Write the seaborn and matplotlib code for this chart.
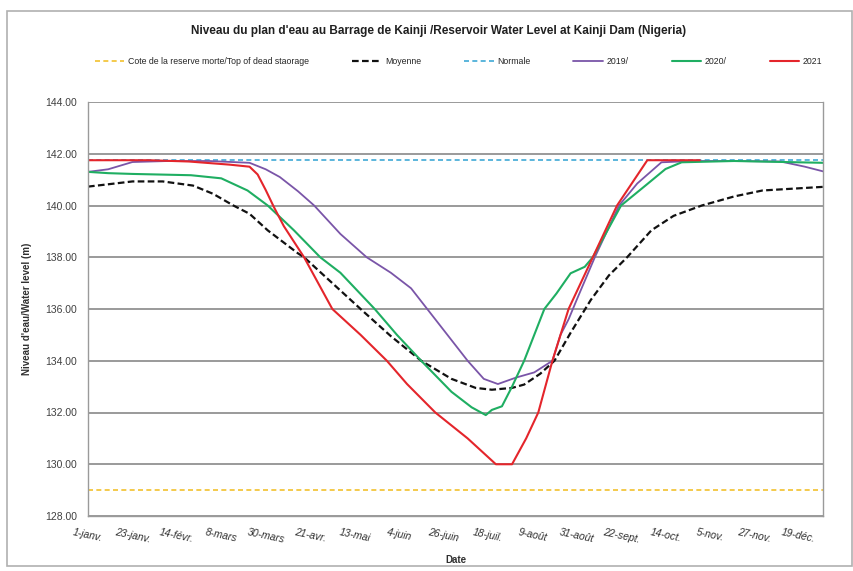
import pandas as pd
import matplotlib.pyplot as plt
from matplotlib.patches import Rectangle
import seaborn as sns

# Dates / values (year 2021 used as reference year)
dates_2019 = ["2021-01-01", "2021-01-11", "2021-01-23", "2021-02-10", "2021-03-02", "2021-03-22",
              "2021-03-30", "2021-04-06", "2021-04-15", "2021-04-23", "2021-05-06", "2021-05-19",
              "2021-05-31", "2021-06-10", "2021-06-18", "2021-06-28", "2021-07-08", "2021-07-16",
              "2021-07-23", "2021-08-01", "2021-08-10", "2021-08-19", "2021-08-23", "2021-08-27",
              "2021-08-31", "2021-09-09", "2021-09-21", "2021-09-30", "2021-10-12", "2021-10-28",
              "2021-11-17", "2021-12-10", "2021-12-22", "2021-12-31"]
level_2019 = [141.30, 141.40, 141.68, 141.72, 141.72, 141.65,
              141.40, 141.10, 140.55, 140.00, 138.90, 138.00,
              137.40, 136.80, 136.00, 135.00, 134.00, 133.30,
              133.10, 133.35, 133.55, 134.00, 135.00, 135.60,
              136.35, 138.00, 140.00, 140.85, 141.67, 141.72,
              141.72, 141.70, 141.50, 141.32]

dates_2020 = ["2021-01-01", "2021-01-11", "2021-01-23", "2021-02-21", "2021-03-08", "2021-03-21",
              "2021-03-31", "2021-04-13", "2021-04-26", "2021-05-06", "2021-05-23", "2021-06-03",
              "2021-06-15", "2021-06-30", "2021-07-10", "2021-07-17", "2021-07-20", "2021-07-25",
              "2021-07-30", "2021-08-05", "2021-08-15", "2021-08-21", "2021-08-28", "2021-09-04",
              "2021-09-08", "2021-09-22", "2021-10-05", "2021-10-14", "2021-10-22", "2021-11-17",
              "2021-12-31"]
level_2020 = [141.30, 141.25, 141.22, 141.17, 141.05, 140.58,
              140.00, 139.04, 138.00, 137.40, 136.00, 135.00,
              134.00, 132.80, 132.20, 131.90, 132.10, 132.24,
              133.00, 134.00, 136.00, 136.60, 137.38, 137.63,
              138.00, 140.00, 140.83, 141.41, 141.67, 141.72,
              141.65]

dates_2021 = ["2021-01-01", "2021-01-31", "2021-02-20", "2021-03-12", "2021-03-22", "2021-03-26",
              "2021-03-30", "2021-04-03", "2021-04-08", "2021-04-18", "2021-04-25", "2021-05-02",
              "2021-05-16", "2021-05-29", "2021-06-08", "2021-06-22", "2021-07-08", "2021-07-22",
              "2021-07-30", "2021-08-06", "2021-08-12", "2021-08-19", "2021-08-27", "2021-09-08",
              "2021-09-20", "2021-10-05", "2021-10-31"]
level_2021 = [141.75, 141.75, 141.70, 141.58, 141.50, 141.20,
              140.60, 139.95, 139.20, 138.00, 137.00, 136.00,
              135.00, 134.00, 133.10, 132.00, 131.00, 130.00,
              130.00, 131.00, 132.00, 134.00, 136.00, 138.00,
              140.00, 141.75, 141.75]

dates_moy = ["2021-01-01", "2021-01-11", "2021-01-23", "2021-02-07", "2021-02-22", "2021-03-04",
             "2021-03-14", "2021-03-22", "2021-03-31", "2021-04-15", "2021-04-18", "2021-05-02",
             "2021-05-16", "2021-05-31", "2021-06-15", "2021-06-30", "2021-07-12", "2021-07-20",
             "2021-07-30", "2021-08-05", "2021-08-13", "2021-08-20", "2021-08-28", "2021-09-07",
             "2021-09-16", "2021-09-25", "2021-10-07", "2021-10-18", "2021-11-01", "2021-11-17",
             "2021-12-01", "2021-12-31"]
level_moy = [140.73, 140.82, 140.93, 140.93, 140.77, 140.45,
             140.00, 139.68, 139.04, 138.15, 138.00, 137.00,
             136.00, 134.95, 134.00, 133.30, 132.95, 132.88,
             132.95, 133.08, 133.50, 134.00, 135.08, 136.35,
             137.30, 138.00, 139.04, 139.60, 140.00, 140.35,
             140.58, 140.72]

dates_flat = ["2021-01-01", "2021-12-31"]
level_normale = [141.75, 141.75]
level_morte = [129.0, 129.0]

tick_dates = ["2021-01-01", "2021-01-23", "2021-02-14", "2021-03-08", "2021-03-30", "2021-04-21",
              "2021-05-13", "2021-06-04", "2021-06-26", "2021-07-18", "2021-08-09", "2021-08-31",
              "2021-09-22", "2021-10-14", "2021-11-05", "2021-11-27", "2021-12-19"]
tick_labels = ["1-janv.", "23-janv.", "14-févr.", "8-mars", "30-mars", "21-avr.", "13-mai",
               "4-juin", "26-juin", "18-juil.", "9-août", "31-août", "22-sept.", "14-oct.",
               "5-nov.", "27-nov.", "19-déc."]

sns.set_style("white")
plt.rcParams['font.family'] = ['Liberation Sans', 'DejaVu Sans']

fig = plt.figure(figsize=(8.54, 5.71), dpi=100)
ax = fig.add_axes([88 / 854, 1 - 516 / 571, (823 - 88) / 854, (516 - 102) / 571])

series = [
    (dates_flat, level_morte, "Cote de la reserve morte/Top of dead staorage", "#f2c12e", (0, (3, 2)), 1.2),
    (dates_moy, level_moy, "Moyenne", "#111111", (0, (3, 1.5)), 1.6),
    (dates_flat, level_normale, "Normale", "#3fa9d6", (0, (3, 2)), 1.2),
    (dates_2019, level_2019, "2019/", "#7a55a8", "-", 1.3),
    (dates_2020, level_2020, "2020/", "#1fae62", "-", 1.5),
    (dates_2021, level_2021, "2021", "#e4252b", "-", 1.5),
]
for d, v, name, col, ls, lw in series:
    df = pd.DataFrame({"date": pd.to_datetime(d), "level": v})
    sns.lineplot(data=df, x="date", y="level", ax=ax, color=col, linestyle=ls,
                 linewidth=lw, label=name, legend=False)

ax.set_xlim(pd.Timestamp("2021-01-01"), pd.Timestamp("2021-12-31"))
ax.set_ylim(128, 144)
ax.set_yticks(range(128, 145, 2))
ax.set_yticklabels([f"{v:.2f}" for v in range(128, 145, 2)], fontsize=7.5, color="#404040")
ax.set_xticks(pd.to_datetime(tick_dates))
ax.set_xticklabels(tick_labels, fontsize=7.5, color="#303030", rotation=-12,
                   ha="center", style="italic")
ax.yaxis.grid(True, color="#7f7f7f", linewidth=1.1)
ax.xaxis.grid(False)
ax.set_axisbelow(True)
for side in ["left", "bottom", "right"]:
    ax.spines[side].set_color("#9a9a9a")
    ax.spines[side].set_linewidth(1.0)
ax.spines["top"].set_visible(False)
ax.tick_params(axis="both", direction="out", length=4, color="#9a9a9a", pad=4)

ax.set_xlabel("Date", fontsize=7, fontweight="bold", color="#303030", labelpad=7)
ax.set_ylabel("Niveau d'eau/Water level (m)", fontsize=7, fontweight="bold", color="#303030",
              labelpad=9)

fig.text(0.513, 1 - 31 / 571, "Niveau du plan d'eau au Barrage de Kainji /Reservoir Water Level at Kainji Dam (Nigeria)",
         ha="center", va="center", fontsize=8.5, fontweight="bold", color="#202020")

handles, labels = ax.get_legend_handles_labels()
fig.legend(handles, labels, loc="center", bbox_to_anchor=(0.537, 1 - 62 / 571), ncol=6,
           frameon=False, fontsize=6.3, handlelength=3.4, columnspacing=4.9, handletextpad=0.4)

fig.patches.append(Rectangle((7 / 854, 1 - 566 / 571), 845 / 854, 555 / 571,
                             transform=fig.transFigure, fill=False, edgecolor="#b0b0b0",
                             linewidth=1.2))

fig.savefig("out.png", dpi=100)
